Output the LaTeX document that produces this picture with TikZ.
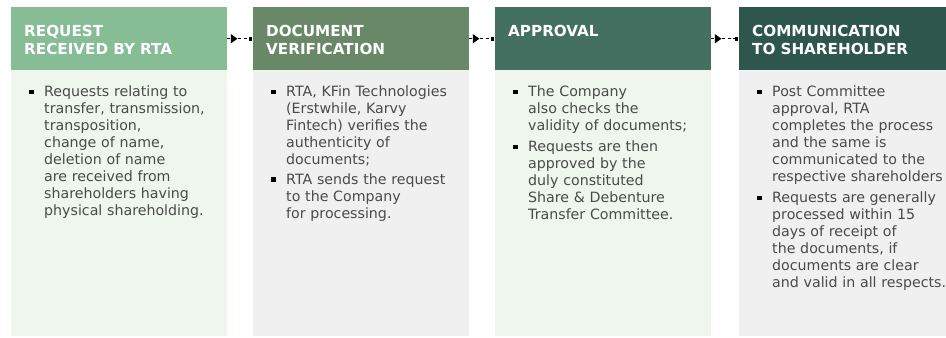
\documentclass[tikz,border=0pt]{standalone}
\usepackage{fontspec}
\setmainfont{DejaVu Sans}
\usetikzlibrary{positioning,arrows.meta,decorations.markings}

\definecolor{headA}{HTML}{86BD94}
\definecolor{headB}{HTML}{688868}
\definecolor{headC}{HTML}{437060}
\definecolor{headD}{HTML}{2E564C}
\definecolor{bodyA}{HTML}{EFF6EE}
\definecolor{bodyB}{HTML}{EFF0EF}
\definecolor{bodytext}{HTML}{4A4A4A}

\newcommand{\bitem}[1]{\noindent\makebox[15bp][l]{\textcolor{black}{\rule[2.8bp]{4.4bp}{4.4bp}}}\parbox[t]{200bp}{#1}\par}

\begin{document}
\begin{tikzpicture}[x=1bp, y=-1bp,
    head/.style={rectangle, inner sep=0, minimum width=216bp, minimum height=63bp, anchor=north west},
    panel/.style={rectangle, inner sep=0, minimum width=216bp, minimum height=266bp, anchor=north west},
    htext/.style={inner sep=0, text width=200bp, align=left, text=white, font=\fontsize{15.2bp}{18bp}\selectfont\bfseries},
    btext/.style={inner sep=0, text width=215bp, align=left, text=bodytext, font=\fontsize{14.2bp}{17bp}\selectfont},
    arr/.style={line width=0.9bp, dash pattern=on 3bp off 2.5bp, shorten >=1bp, -{Square[length=3.5bp,width=3.5bp]},
        decoration={markings, mark=at position 10bp with {\arrow{Triangle[length=6.5bp,width=9bp]}}}, postaction={decorate}}
]
    \useasboundingbox (0,0) rectangle (946,337);

    % Column 1
    \node[head, fill=headA] (h1) at (11,7) {};
    \node[panel, fill=bodyA] (b1) at (11,70) {};
    \node[htext, below right=18.5bp and 13bp of h1.north west] (l1) {REQUEST\\RECEIVED BY RTA};
    \node[btext, below right=16bp and 18bp of b1.north west] (t1) {%
        \bitem{Requests relating to\\transfer, transmission,\\transposition,\\change of name,\\deletion of name\\are received from\\shareholders having\\physical shareholding.}};

    % Column 2
    \node[head, fill=headB] (h2) at (253,7) {};
    \node[panel, fill=bodyB] (b2) at (253,70) {};
    \node[htext, below right=18.5bp and 13bp of h2.north west] (l2) {DOCUMENT\\VERIFICATION};
    \node[btext, below right=16bp and 18bp of b2.north west] (t2) {%
        \bitem{RTA, KFin Technologies\\(Erstwhile, Karvy\\Fintech) verifies the\\authenticity of\\documents;}\vspace{6bp}
        \bitem{RTA sends the request\\to the Company\\for processing.}};

    % Column 3
    \node[head, fill=headC] (h3) at (495,7) {};
    \node[panel, fill=bodyA] (b3) at (495,70) {};
    \node[htext, below right=18.5bp and 13bp of h3.north west] (l3) {APPROVAL};
    \node[btext, below right=16bp and 18bp of b3.north west] (t3) {%
        \bitem{The Company\\also checks the\\validity of documents;}\vspace{6bp}
        \bitem{Requests are then\\approved by the\\duly constituted\\Share \& Debenture\\Transfer Committee.}};

    % Column 4
    \node[head, fill=headD, minimum width=207bp] (h4) at (739,7) {};
    \node[panel, fill=bodyB, minimum width=207bp] (b4) at (739,70) {};
    \node[htext, below right=18.5bp and 13bp of h4.north west] (l4) {COMMUNICATION\\TO SHAREHOLDER};
    \node[btext, below right=16bp and 18bp of b4.north west] (t4) {%
        \bitem{Post Committee\\approval, RTA\\completes the process\\and the same is\\communicated to the\\respective shareholders}\vspace{6bp}
        \bitem{Requests are generally\\processed within 15\\days of receipt of\\the documents, if\\documents are clear\\and valid in all respects.}};

    % Arrows
    \draw[arr] (h1.east) -- (h2.west);
    \draw[arr] (h2.east) -- (h3.west);
    \draw[arr] (h3.east) -- (h4.west);
\end{tikzpicture}
\end{document}
